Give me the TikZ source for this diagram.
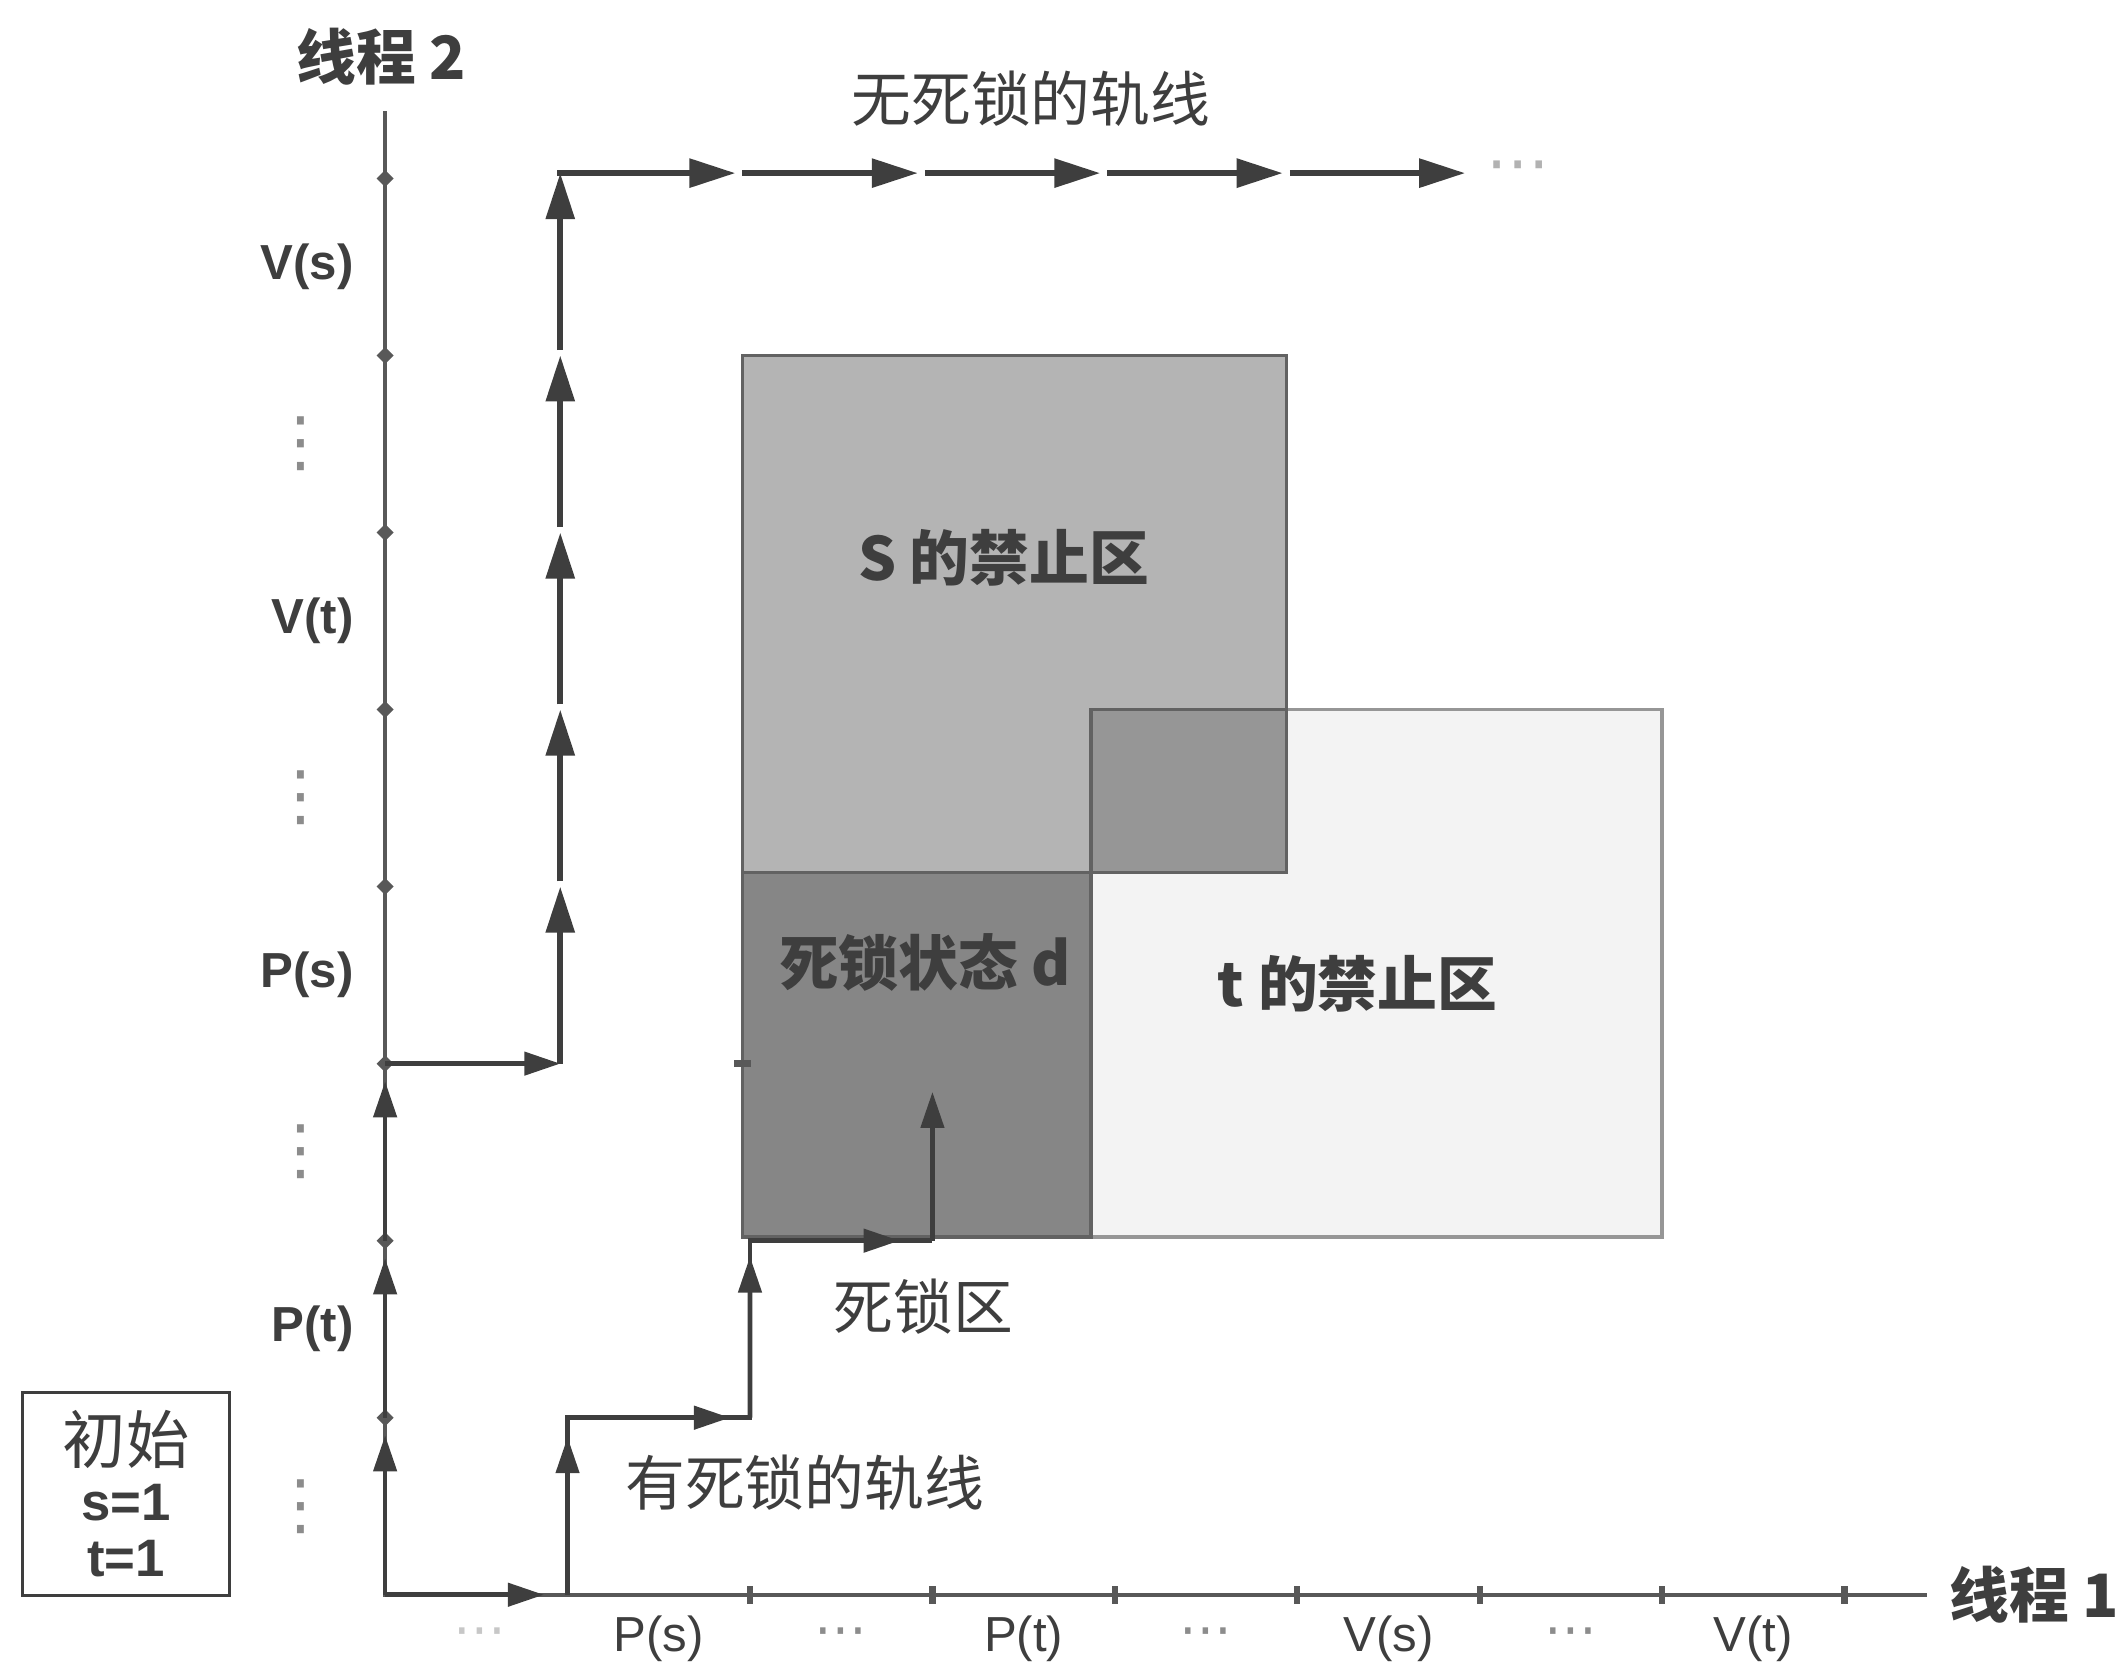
\documentclass[tikz,border=0pt]{standalone}
\usepackage{fontspec}
\setmainfont{Liberation Sans}
\newfontfamily\cjk{Noto Sans CJK SC}
\newfontfamily\symf{DejaVu Sans}
\usetikzlibrary{arrows.meta,calc,positioning,shapes.geometric}
\definecolor{ink}{RGB}{62,62,62}
\definecolor{axisgrey}{RGB}{88,88,88}
\definecolor{sbg}{RGB}{180,180,180}
\definecolor{tbg}{RGB}{243,243,243}
\definecolor{obg}{RGB}{150,150,150}
\definecolor{dbg}{RGB}{134,134,134}
\definecolor{edge}{RGB}{98,98,98}
\definecolor{tedge}{RGB}{150,150,150}
\definecolor{faint}{RGB}{140,140,140}
\tikzset{
  axisln/.style={draw=axisgrey,line width=1.1pt},
  flow/.style={-{Triangle[length=4.6mm,width=2.8mm]},line width=1.7pt,draw=ink},
  flows/.style={-{Triangle[length=3.6mm,width=2.3mm]},line width=1.3pt,draw=ink},
  trk/.style={draw=ink,line width=1.3pt},
  region/.style={line width=1pt},
  cn/.style={font=\cjk\fontsize{17pt}{20pt}\selectfont,text=ink,inner sep=1pt},
  cnb/.style={cn,font=\cjk\bfseries\fontsize{17pt}{20pt}\selectfont},
  tklbl/.style={font=\bfseries\fontsize{14pt}{16pt}\selectfont,text=ink,inner sep=1pt},
  btlbl/.style={font=\fontsize{14pt}{16pt}\selectfont,text=ink,inner sep=1pt},
  elide/.style={font=\symf\fontsize{15pt}{16pt}\selectfont,text=faint,inner sep=0pt},
  helide/.style={elide,font=\symf\fontsize{18pt}{20pt}\selectfont},
  velide/.style={elide,font=\symf\fontsize{19pt}{20pt}\selectfont},
  vtick/.style={diamond,fill=axisgrey,inner sep=0pt,minimum size=5pt},
  htick/.style={rectangle,fill=axisgrey,inner sep=0pt,minimum width=1.8pt,minimum height=5pt},
  initbox/.style={draw=ink,line width=1pt,align=center,text=ink,
                  minimum width=2.07cm,minimum height=2.03cm,
                  font=\bfseries\fontsize{15pt}{16pt}\selectfont},
}

\begin{document}
\begin{tikzpicture}[x=1.824cm,y=1.770cm]
  \useasboundingbox (-2.111,-0.389) rectangle (9.504,9.008);

  % forbidden regions
  \draw[region,fill=tbg,draw=tedge] (3.87,2.02) rectangle (7.0,5.0);
  \draw[region,fill=sbg,draw=edge] (1.96,4.08) rectangle (4.94,7.0);
  \draw[region,fill=obg,draw=edge] (3.87,4.08) rectangle (4.94,5.0);
  \draw[region,fill=dbg,draw=edge] (1.96,2.02) rectangle (3.87,4.08);
  \node[htick,minimum width=5pt,minimum height=1.8pt] (dmark) at (1.96,3) {};

  \node[cnb] (sreg)   at (3.39,5.86) {S 的禁止区};
  \node[cnb] (treg)   at (5.33,3.45) {t 的禁止区};
  \node[cnb] (dstate) at (2.96,3.57) {死锁状态 d};
  \node[cn]  (dzone)  at (2.95,1.63) {死锁区};

  % axes
  \coordinate (o) at (0,0);
  \coordinate (xend) at (8.45,0);
  \coordinate (yend) at (0,8.38);
  \draw[axisln] (yend) -- (o) -- (xend);
  \node[cnb] (th1) at (9.04,0)     {线程 1};
  \node[cnb] (th2) at (-0.02,8.69) {线程 2};

  \foreach \i in {2,...,8}
    \node[htick] (hx\i) at (\i,0) {};
  \foreach \j in {1,...,8}
    \node[vtick] (vy\j) at (0,\j) {};

  \foreach \lbl [count=\k] in {P(s),P(t),V(s),V(t)}
    \node[btlbl] (bx\k) at ({2*\k-0.5},-0.25) {\lbl};
  \node[elide,text=black!22] (be0) at (0.52,-0.24) {⋯};
  \foreach \k in {1,2,3}
    \node[elide] (be\k) at ({2*\k+0.5},-0.24) {⋯};

  \foreach \lbl [count=\k] in {P(t),P(s),V(t),V(s)}
    \node[tklbl,anchor=east] (vl\k) at (-0.15,{2*\k-0.5}) {\lbl};
  \foreach \k in {0,...,3}
    \node[velide] (ve\k) at (-0.46,{2*\k+0.5}) {⋮};

  % path without deadlock
  \foreach \j in {0,...,3}
    \coordinate (a\j) at (0,\j);
  \foreach \j [evaluate=\j as \n using int(\j+1)] in {0,1,2}
    \draw[flows] (a\j) -- ($(a\j)!0.9!(a\n)$);
  \foreach \j in {3,...,7}
    \coordinate (u\j) at (0.96,\j);
  \coordinate (u8) at (0.96,8.03);
  \draw[flows] (a3) -- (u3);
  \draw[flow] (u3) -- (u4);
  \foreach \j [evaluate=\j as \n using int(\j+1)] in {4,...,7}
    \draw[flow,shorten <=1.5pt] (u\j) -- (u\n);
  \coordinate (h0) at (u8);
  \foreach \j in {1,...,5}
    \coordinate (h\j) at (\j+0.92,8.03);
  \draw[flow] ($(h0)+(-0.85pt,0)$) -- (h1);
  \foreach \j [evaluate=\j as \n using int(\j+1)] in {1,...,4}
    \draw[flow,shorten <=2pt] (h\j) -- (h\n);
  \node[helide,text=black!30,right=6pt of h5] (more) {⋯};
  \node[cn] (freelbl) at (3.54,8.45) {无死锁的轨线};

  % path into the deadlock
  \coordinate (d0) at (1,0);
  \coordinate (d1) at (1,1);
  \coordinate (d2) at (2,1);
  \coordinate (d3) at (2,2);
  \coordinate (d4) at (3,2);
  \coordinate (d5) at (3,2.84);
  \draw[flows] (o) -- ($(o)!0.87!(d0)$);
  \draw[trk] (d0) -- (d1) -- (d2) -- (d3) -- (d4);
  \draw[flows] (d0) -- ($(d0)!0.89!(d1)$);
  \draw[flows] (d1) -- ($(d1)!0.89!(d2)$);
  \draw[flows] (d2) -- ($(d2)!0.91!(d3)$);
  \draw[flows] (d3) -- ($(d3)!0.82!(d4)$);
  \draw[flows] (d4) -- (d5);
  \node[cn] (locklbl) at (2.30,0.63) {有死锁的轨线};

  \node[initbox] (init) at (-1.42,0.57)
    {{\cjk\mdseries\fontsize{18pt}{16pt}\selectfont 初始}\\s=1\\t=1};
\end{tikzpicture}
\end{document}
